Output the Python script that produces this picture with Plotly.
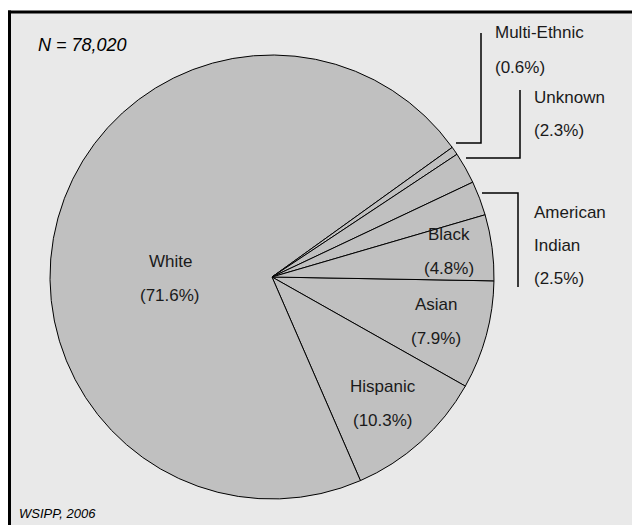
import plotly.graph_objects as go

# Population breakdown by race/ethnicity (percent of N)
categories = ["Asian", "Hispanic", "White", "Multi-Ethnic", "Unknown", "American Indian", "Black"]
percents = [7.9, 10.3, 71.6, 0.6, 2.3, 2.5, 4.8]
total_n = "78,020"
source_note = "WSIPP, 2006"

W, H = 632, 525
CX, CY, R = 272, 277, 222  # pie centre and radius in pixels


def fx(x):
    return x / W


def fy(y):
    return 1 - y / H


FONT = "Liberation Sans Narrow, Arial Narrow, Liberation Sans, Arial, sans-serif"
SLICE = "#c0c0c0"
PANEL = "#e9e9e9"

fig = go.Figure(
    go.Pie(
        labels=categories,
        values=percents,
        sort=False,
        direction="clockwise",
        rotation=91,
        textinfo="none",
        hoverinfo="label+value",
        marker=dict(colors=[SLICE] * len(categories), line=dict(color="black", width=1)),
        domain=dict(x=[fx(CX - R), fx(CX + R)], y=[fy(CY + R), fy(CY - R)]),
        showlegend=False,
    )
)

# label placement: category -> (anchor x, first line y, xanchor) in pixels
label_layout = {
    "White": (170, 261, "center"),
    "Hispanic": (383, 386, "center"),
    "Asian": (436, 304, "center"),
    "Black": (449, 234, "center"),
    "Multi-Ethnic": (493, 33, "left"),
    "Unknown": (532, 97, "left"),
    "American Indian": (532, 212, "left"),
}
LINE_GAP = 34

annotations = []
for name, pct in zip(categories, percents):
    x, y, anchor = label_layout[name]
    lines = name.split(" ") if name == "American Indian" else [name]
    lines = lines + [f"({pct}%)"]
    gap = 33 if len(lines) > 2 else LINE_GAP
    for i, txt in enumerate(lines):
        annotations.append(
            dict(
                x=fx(x), y=fy(y + i * gap), xref="paper", yref="paper",
                text=txt, showarrow=False, xanchor=anchor, yanchor="middle",
                font=dict(family=FONT, size=17, color="#1a1a1a"),
            )
        )

annotations.append(
    dict(x=fx(36), y=fy(45), xref="paper", yref="paper", text=f"<i>N = {total_n}</i>",
         showarrow=False, xanchor="left", yanchor="middle",
         font=dict(family="Liberation Sans, Arial, sans-serif", size=18, color="black"))
)
annotations.append(
    dict(x=fx(17), y=fy(513), xref="paper", yref="paper", text=f"<i>{source_note}</i>",
         showarrow=False, xanchor="left", yanchor="middle",
         font=dict(family="Liberation Sans, Arial, sans-serif", size=13, color="black"))
)

shapes = [
    # panel fill, open to the right and bottom edges of the page
    dict(type="rect", xref="paper", yref="paper", layer="below",
         x0=fx(9.5), x1=1, y0=0, y1=fy(12),
         line=dict(width=0), fillcolor=PANEL),
    # top and left frame edges
    dict(type="line", xref="paper", yref="paper", layer="below",
         x0=fx(8), x1=1, y0=fy(12), y1=fy(12), line=dict(color="black", width=3)),
    dict(type="line", xref="paper", yref="paper", layer="below",
         x0=fx(9.5), x1=fx(9.5), y0=0, y1=fy(10.5), line=dict(color="black", width=3)),
]

# leader lines for the small outside slices: (x at pie, y, x of riser, y end)
leaders = [
    (456, 143, 481, 33),
    (466, 158, 520, 90),
    (482, 193, 518, 287),
]
for x0, y0, xr, yend in leaders:
    shapes.append(dict(type="path", xref="paper", yref="paper",
                       path=f"M {fx(x0)},{fy(y0)} L {fx(xr)},{fy(y0)} L {fx(xr)},{fy(yend)}",
                       line=dict(color="black", width=1.5)))

fig.update_layout(
    width=W, height=H,
    margin=dict(l=0, r=0, t=0, b=0),
    paper_bgcolor="white",
    plot_bgcolor="white",
    annotations=annotations,
    shapes=shapes,
)

fig.write_html("out.html")
